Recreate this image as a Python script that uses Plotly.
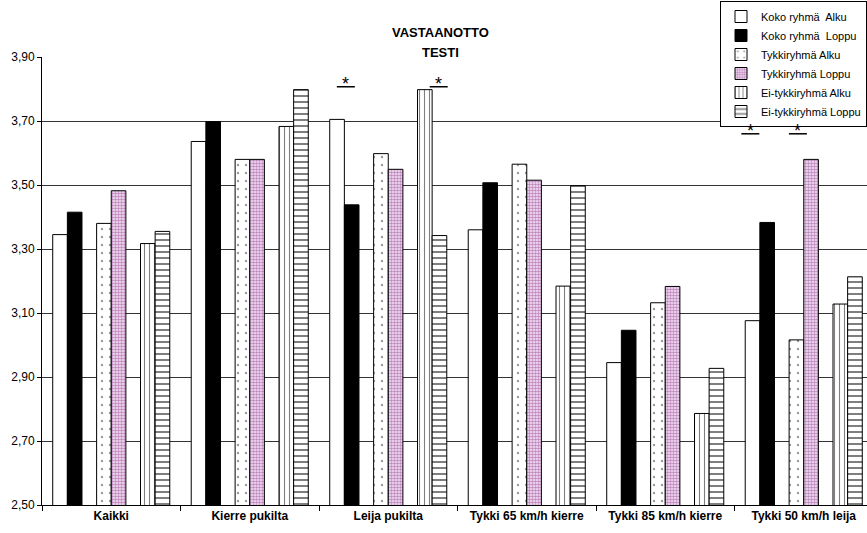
import plotly.graph_objects as go

# --- data -----------------------------------------------------------------
categories = ["Kaikki", "Kierre pukilta", "Leija pukilta",
              "Tykki 65 km/h kierre", "Tykki 85 km/h kierre", "Tykki 50 km/h leija"]

koko_alku = [3.345, 3.636, 3.705, 3.360, 2.945, 3.076]
koko_loppu = [3.415, 3.698, 3.438, 3.507, 3.046, 3.383]
tykki_alku = [3.380, 3.580, 3.598, 3.565, 3.132, 3.016]
tykki_loppu = [3.482, 3.580, 3.549, 3.515, 3.183, 3.580]
ei_alku = [3.317, 3.683, 3.798, 3.184, 2.786, 3.128]
ei_loppu = [3.355, 3.798, 3.342, 3.498, 2.927, 3.213]

y_ticks = [2.50, 2.70, 2.90, 3.10, 3.30, 3.50, 3.70, 3.90]

# significance markers: (category index, first slot of the pair, line level, shift in slots)
sig_marks = [(2, 0, 3.807, 0.1), (2, 6, 3.807, 0.45),
             (5, 0, 3.660, -0.65), (5, 3, 3.660, -0.4)]

# --- layout helpers -------------------------------------------------------
W, H = 867, 533
PLOT_L, PLOT_T, PLOT_B = 42, 57, 505
CAT_PX = 138.5
n_visible = (W - PLOT_L) / CAT_PX
x_range = [-0.5, -0.5 + n_visible]

GROUP = 0.845          # fraction of a category used by the bar cluster
N_SLOTS = 8            # six series + two empty spacer slots
SLOT = GROUP / N_SLOTS


def slot_offset(s):
    return -GROUP / 2 + s * SLOT


def px_x(px):
    return (px - PLOT_L) / (W - PLOT_L)


def px_y(py):
    return (PLOT_B - py) / (PLOT_B - PLOT_T)


FONT = "Liberation Sans, Arial, sans-serif"

series = [
    ("Koko ryhmä  Alku", koko_alku, 0, dict(color="white")),
    ("Koko ryhmä  Loppu", koko_loppu, 1, dict(color="black")),
    ("Tykkiryhmä Alku", tykki_alku, 3,
     dict(color="white", pattern=dict(shape=".", size=8, solidity=0.07,
                                      fgcolor="#333333", bgcolor="white", fillmode="overlay"))),
    ("Tykkiryhmä Loppu", tykki_loppu, 4,
     dict(color="white", pattern=dict(shape=".", size=3, solidity=0.55,
                                      fgcolor="#862686", bgcolor="#f6e8f6", fillmode="overlay"))),
    ("Ei-tykkiryhmä Alku", ei_alku, 6,
     dict(color="white", pattern=dict(shape="|", size=5, solidity=0.22,
                                      fgcolor="black", bgcolor="white", fillmode="overlay"))),
    ("Ei-tykkiryhmä Loppu", ei_loppu, 7,
     dict(color="white", pattern=dict(shape="-", size=6, solidity=0.34,
                                      fgcolor="black", bgcolor="white", fillmode="overlay"))),
]

fig = go.Figure()
x_idx = list(range(len(categories)))
for name, vals, slot, marker in series:
    marker = dict(marker)
    marker["line"] = dict(color="black", width=1)
    fig.add_trace(go.Bar(
        name=name, x=x_idx, y=vals,
        width=SLOT, offset=slot_offset(slot),
        marker=marker,
    ))

# significance asterisks with underline
shapes = []
annotations = []
for cat, s, level, shift in sig_marks:
    xc = cat + slot_offset(s) + SLOT * (1 + shift)
    shapes.append(dict(type="line", xref="x", yref="y",
                       x0=xc - 0.065, x1=xc + 0.065, y0=level, y1=level,
                       line=dict(color="black", width=1.5)))
    annotations.append(dict(x=xc, y=level, xref="x", yref="y", text="*",
                            showarrow=False, yanchor="bottom", yshift=-9,
                            font=dict(family=FONT, size=18, color="black")))

# two-line title
annotations.append(dict(x=px_x(440), y=px_y(23), xref="paper", yref="paper",
                        text="<b>VASTAANOTTO</b>", showarrow=False,
                        font=dict(family=FONT, size=13, color="black")))
annotations.append(dict(x=px_x(440), y=px_y(43), xref="paper", yref="paper",
                        text="<b>TESTI</b>", showarrow=False,
                        font=dict(family=FONT, size=13, color="black")))

fig.update_layout(
    width=W, height=H,
    margin=dict(l=PLOT_L, r=0, t=PLOT_T, b=H - PLOT_B, pad=0, autoexpand=False),
    paper_bgcolor="white", plot_bgcolor="white",
    barmode="overlay",
    separators=", ",
    font=dict(family=FONT, size=12, color="black"),
    showlegend=True,
    legend=dict(x=1.0, xanchor="right", y=px_y(1), yanchor="top",
                bgcolor="white", bordercolor="black", borderwidth=1,
                font=dict(family=FONT, size=11, color="black"),
                tracegroupgap=0, itemwidth=30),
    shapes=shapes,
    annotations=annotations,
)

fig.update_xaxes(
    range=x_range,
    tickvals=x_idx, ticktext=[f"<b>{c}</b>" for c in categories],
    ticks="", showgrid=False, zeroline=False,
    showline=True, linecolor="black", linewidth=1,
    tickfont=dict(family=FONT, size=12, color="black"),
    minor=dict(tickvals=[i - 0.5 for i in range(len(categories) + 1)],
               ticks="outside", ticklen=5, tickcolor="black", showgrid=False),
)

fig.update_yaxes(
    range=[y_ticks[0], y_ticks[-1]],
    tickvals=y_ticks, tickformat=".2f",
    ticks="outside", ticklen=4, tickcolor="black",
    showgrid=True, gridcolor="#333333", gridwidth=1,
    zeroline=False, showline=True, linecolor="black", linewidth=1,
    tickfont=dict(family=FONT, size=12, color="black"),
)

fig.write_html("out.html")
